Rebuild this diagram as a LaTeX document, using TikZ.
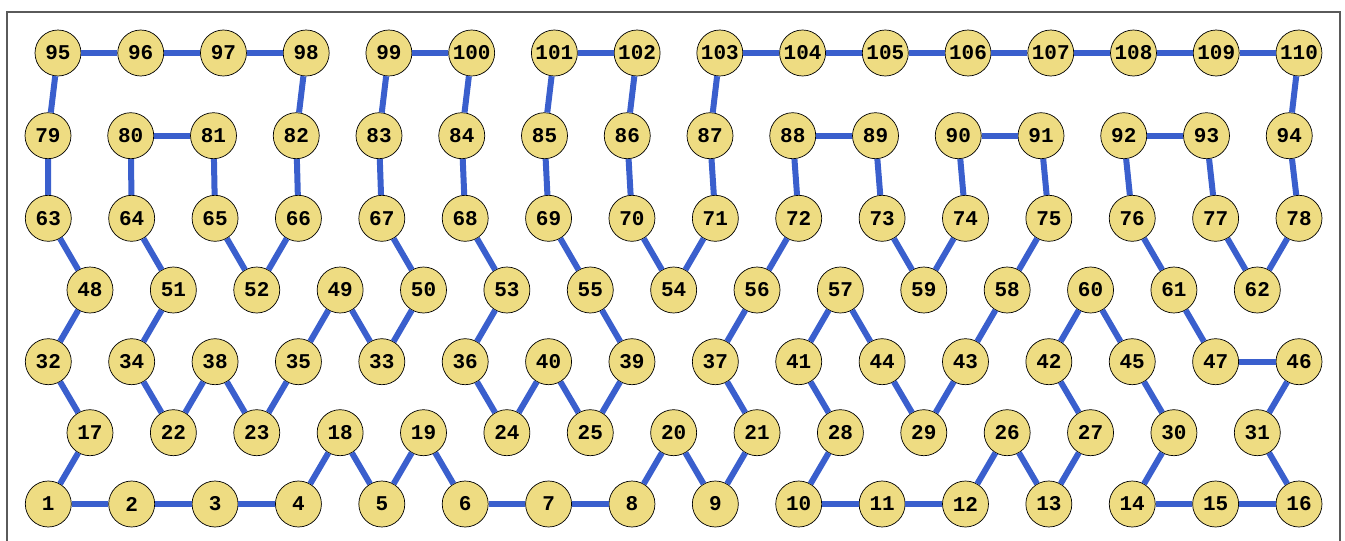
\documentclass[tikz,border=0pt]{standalone}
\usepackage{fontspec}
\setmonofont{Liberation Mono}
\definecolor{edgeblue}{RGB}{58,95,205}
\definecolor{nodefill}{RGB}{238,220,130}
\definecolor{framegray}{RGB}{90,90,90}
\tikzset{
  vtx/.style={circle, draw=black, line width=0.7pt, fill=nodefill, minimum size=46pt, inner sep=0pt,
    font=\fontsize{21}{21}\selectfont\ttfamily\bfseries},
  edg/.style={draw=edgeblue, line width=6pt}
}
\begin{document}
\begin{tikzpicture}[x=1pt, y=-1pt]
\useasboundingbox (0,0) rectangle (1345,541);
\draw[framegray, line width=1.3pt] (7,541) -- (7,12) -- (1340,12) -- (1340,541);
% rows
\foreach \n [count=\i from 0] in {1,2,3,4,5,6,7,8,9,10,11,12,13,14,15,16}
  \node[vtx] (\n) at ({48.3+83.38*\i},504) {\n};
\foreach \n [count=\i from 0] in {17,22,23,18,19,24,25,20,21,28,29,26,27,30,31}
  \node[vtx] (\n) at ({48.3+83.38*(\i+0.5)},432.7) {\n};
\foreach \n [count=\i from 0] in {32,34,38,35,33,36,40,39,37,41,44,43,42,45,47,46}
  \node[vtx] (\n) at ({48.3+83.38*\i},361.7) {\n};
\foreach \n [count=\i from 0] in {48,51,52,49,50,53,55,54,56,57,59,58,60,61,62}
  \node[vtx] (\n) at ({48.3+83.38*(\i+0.5)},290) {\n};
\foreach \n [count=\i from 0] in {63,64,65,66,67,68,69,70,71,72,73,74,75,76,77,78}
  \node[vtx] (\n) at ({48.3+83.38*\i},218.3) {\n};
\foreach \n [count=\i from 0] in {79,80,81,82,83,84,85,86,87,88,89,90,91,92,93,94}
  \node[vtx] (\n) at ({48+82.75*\i},135.7) {\n};
\foreach \n [count=\i from 0] in {95,96,97,98,99,100,101,102,103,104,105,106,107,108,109,110}
  \node[vtx] (\n) at ({58+82.73*\i},53) {\n};
% edges
\foreach \a/\b in {1/2,2/3,3/4,4/18,18/5,5/19,19/6,6/7,7/8,8/20,20/9,9/21,21/37,37/56,56/72,72/88,88/89,89/73,73/59,59/74,74/90,90/91,91/75,75/58,58/43,43/29,29/44,44/57,57/41,41/28,28/10,10/11,11/12,12/26,26/13,13/27,27/42,42/60,60/45,45/30,30/14,14/15,15/16,16/31,31/46,46/47,47/61,61/76,76/92,92/93,93/77,77/62,62/78,78/94,94/110,110/109,109/108,108/107,107/106,106/105,105/104,104/103,103/87,87/71,71/54,54/70,70/86,86/102,102/101,101/85,85/69,69/55,55/39,39/25,25/40,40/24,24/36,36/53,53/68,68/84,84/100,100/99,99/83,83/67,67/50,50/33,33/49,49/35,35/23,23/38,38/22,22/34,34/51,51/64,64/80,80/81,81/65,65/52,52/66,66/82,82/98,98/97,97/96,96/95,95/79,79/63,63/48,48/32,32/17,17/1}
  \draw[edg] (\a) -- (\b);
\end{tikzpicture}
\end{document}
